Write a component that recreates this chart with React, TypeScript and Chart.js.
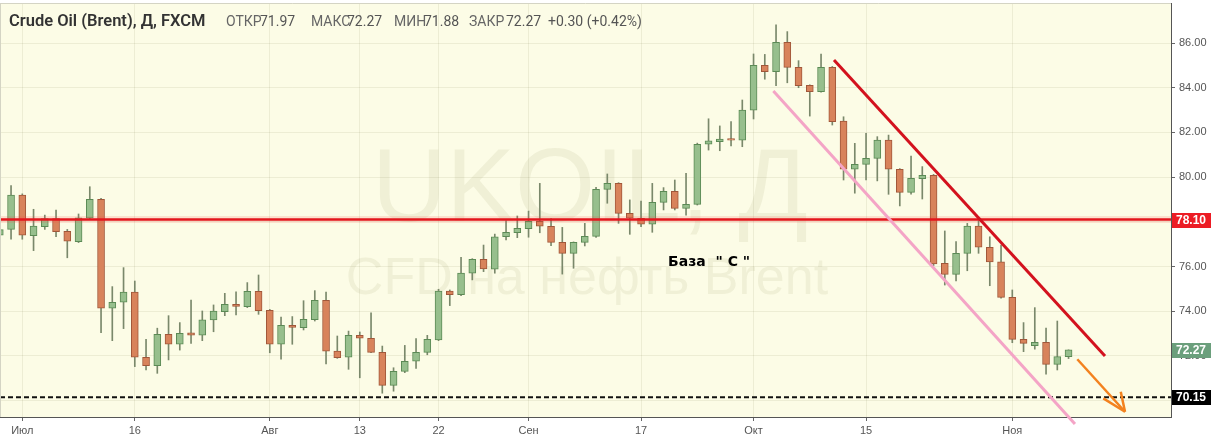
import React, { useEffect, useRef } from 'react';
import { Chart, registerables } from 'chart.js';

Chart.register(...registerables);

// ---- data (trading days, 2018) ----
const dates = [
  '06-28', '06-29',
  '07-02', '07-03', '07-04', '07-05', '07-06', '07-09', '07-10', '07-11', '07-12', '07-13', '07-16', '07-17', '07-18', '07-19', '07-20', '07-23', '07-24', '07-25', '07-26', '07-27', '07-30', '07-31',
  '08-01', '08-02', '08-03', '08-06', '08-07', '08-08', '08-09', '08-10', '08-13', '08-14', '08-15', '08-16', '08-17', '08-20', '08-21', '08-22', '08-23', '08-24', '08-27', '08-28', '08-29', '08-30', '08-31',
  '09-03', '09-04', '09-05', '09-06', '09-07', '09-10', '09-11', '09-12', '09-13', '09-14', '09-17', '09-18', '09-19', '09-20', '09-21', '09-24', '09-25', '09-26', '09-27', '09-28',
  '10-01', '10-02', '10-03', '10-04', '10-05', '10-08', '10-09', '10-10', '10-11', '10-12', '10-15', '10-16', '10-17', '10-18', '10-19', '10-22', '10-23', '10-24', '10-25', '10-26', '10-29', '10-30', '10-31',
  '11-01', '11-02', '11-05', '11-06', '11-07', '11-08',
];

const opens = [
  77.40, 77.66, 79.20, 77.38, 77.78, 78.14, 77.57, 77.11, 78.16, 79.01,
  74.13, 74.40, 74.85, 71.94, 71.56, 72.97, 72.52, 73.03, 72.93, 73.61,
  73.98, 74.31, 74.20, 74.89, 74.04, 72.52, 73.37, 73.26, 73.62, 74.49,
  72.21, 71.94, 72.92, 72.79, 72.16, 70.68, 71.31, 71.76, 72.16, 72.71,
  74.90, 74.74, 75.70, 76.32, 75.88, 77.33, 77.51, 77.69, 78.02, 77.80,
  77.08, 76.59, 77.08, 77.35, 79.45, 79.72, 78.38, 78.16, 77.89, 78.87,
  79.36, 78.60, 78.78, 81.47, 81.58, 81.72, 81.65, 83.00, 85.00, 84.72,
  86.03, 84.91, 84.11, 83.82, 84.91, 82.51, 80.35, 80.57, 80.84, 81.66,
  80.35, 79.32, 79.93, 80.08, 76.14, 75.65, 76.59, 77.81, 76.86, 76.21,
  74.62, 72.74, 72.46, 72.61, 71.62, 71.97,
];

const highs = [
  77.72, 79.62, 79.25, 78.56, 78.30, 78.53, 77.66, 78.35, 79.57, 79.05,
  75.10, 75.95, 75.35, 72.74, 73.24, 73.80, 73.49, 74.50, 74.01, 74.28,
  74.80, 74.87, 75.28, 75.62, 74.08, 73.74, 73.76, 74.47, 74.92, 74.86,
  72.89, 73.11, 73.07, 73.93, 72.44, 71.47, 72.47, 72.77, 72.92, 74.98,
  74.95, 76.41, 76.35, 76.96, 77.45, 78.05, 78.26, 78.48, 79.72, 78.14,
  77.75, 77.10, 77.93, 79.54, 80.14, 79.75, 78.98, 78.93, 79.72, 79.53,
  79.87, 80.17, 81.52, 82.61, 82.29, 82.48, 83.45, 85.51, 85.49, 86.81,
  86.51, 85.21, 84.13, 85.51, 84.95, 82.70, 81.51, 81.96, 81.81, 81.88,
  80.38, 80.94, 80.47, 80.12, 77.59, 77.11, 77.93, 78.05, 77.33, 76.96,
  74.95, 73.49, 74.16, 73.24, 73.56, 72.27,
];

const lows = [
  77.30, 77.22, 77.22, 76.71, 77.66, 77.33, 76.39, 77.07, 78.12, 73.04,
  72.68, 73.22, 71.52, 71.37, 71.22, 71.82, 72.26, 72.56, 72.68, 73.08,
  73.80, 73.83, 74.16, 73.86, 72.14, 71.85, 72.52, 73.16, 73.56, 71.64,
  71.89, 71.40, 71.02, 72.14, 70.33, 70.42, 71.25, 71.44, 72.05, 72.68,
  74.25, 74.69, 75.40, 75.77, 75.70, 77.19, 77.29, 77.31, 77.51, 76.93,
  75.66, 75.92, 76.92, 77.30, 78.83, 77.93, 77.44, 77.78, 77.53, 78.53,
  78.53, 78.30, 78.75, 81.21, 81.18, 81.39, 81.36, 82.60, 84.38, 84.09,
  84.22, 84.00, 82.73, 83.80, 82.33, 79.87, 79.28, 79.87, 79.83, 79.23,
  78.71, 79.24, 79.02, 76.04, 75.17, 75.35, 75.81, 76.59, 75.14, 74.58,
  72.59, 72.19, 72.30, 71.18, 71.37, 71.88,
];

const closes = [
  77.65, 79.20, 77.40, 77.81, 78.14, 77.56, 77.13, 78.18, 79.01, 74.13,
  74.40, 74.85, 71.94, 71.56, 72.97, 72.52, 73.01, 72.93, 73.61, 74.01,
  74.31, 74.21, 74.89, 74.02, 72.52, 73.37, 73.27, 73.64, 74.49, 72.21,
  71.92, 72.92, 72.79, 72.16, 70.68, 71.31, 71.76, 72.16, 72.74, 74.90,
  74.74, 75.70, 76.32, 75.89, 77.33, 77.53, 77.71, 78.02, 77.80, 77.08,
  76.59, 77.08, 77.35, 79.45, 79.72, 78.38, 78.16, 77.89, 78.87, 79.36,
  78.60, 78.78, 81.47, 81.62, 81.70, 81.65, 83.00, 85.00, 84.72, 86.03,
  84.91, 84.09, 83.82, 84.91, 82.48, 80.36, 80.57, 80.84, 81.66, 80.35,
  79.32, 79.95, 80.08, 76.11, 75.65, 76.59, 77.81, 76.86, 76.21, 74.62,
  72.74, 72.56, 72.61, 71.62, 71.97, 72.27,
];

// x-axis ticks (dates) and labels
const tickDates = ['07-02', '07-16', '08-01', '08-13', '08-22', '09-03', '09-17', '10-01', '10-15', '11-01'];
const tickLabels = ['Июл', '16', 'Авг', '13', '22', 'Сен', '17', 'Окт', '15', 'Ноя'];
const yTicks = [70, 72, 74, 76, 78, 80, 82, 84, 86];

// levels and drawn annotations (data coordinates: x = trading-day index, y = price)
const resistanceLevel = 78.10;
const baseLevel = 70.15;
const redTrend = [{ x: 74.15, y: 85.24 }, { x: 98.24, y: 72.0 }];
const pinkTrend = [{ x: 68.76, y: 83.85 }, { x: 95.57, y: 68.95 }];
const arrowShaft = [{ x: 95.78, y: 71.85 }, { x: 100.02, y: 69.50 }];
const arrowArmA = [{ x: 98.09, y: 70.10 }, { x: 100.02, y: 69.50 }];
const arrowArmB = [{ x: 99.64, y: 70.40 }, { x: 100.02, y: 69.50 }];
const baseText = 'База  " С "';
const baseTextPos = { x: 59.4, y: 76.18 };

const X_MIN = 0.018;
const X_MAX = 104.107;
const Y_MIN = 69.266;
const Y_MAX = 87.79;

const BG = '#fcfce6';
const GRID = 'rgba(60,60,0,0.075)';
const GREEN_FILL = '#97bf8d';
const GREEN_EDGE = '#5b8a55';
const RED_FILL = '#d8835b';
const RED_EDGE = '#a0573a';
const WICK = '#7a886b';

export default function App() {
  const canvasRef = useRef<HTMLCanvasElement | null>(null);

  useEffect(() => {
    const canvas = canvasRef.current;
    if (!canvas) return;
    const xs = dates.map((_, i) => i);
    const rising = closes.map((c, i) => c >= opens[i]);
    const tickPositions = tickDates.map((d) => dates.indexOf(d));
    const hLine = (y: number) => [{ x: X_MIN, y }, { x: X_MAX, y }];
    const last = closes.length - 1;

    const decorPlugin = {
      id: 'decor',
      beforeDraw(chart: any) {
        const { ctx, chartArea: a, width, height } = chart;
        ctx.save();
        ctx.fillStyle = '#ffffff';
        ctx.fillRect(0, 0, width, height);
        ctx.fillStyle = BG;
        ctx.fillRect(a.left, a.top, a.right - a.left, a.bottom - a.top);
        ctx.fillStyle = 'rgba(90,90,30,0.075)';
        ctx.textAlign = 'center';
        ctx.textBaseline = 'alphabetic';
        ctx.font = '103px "Liberation Sans"';
        ctx.fillText('UKOIL, Д', 590, 221);
        ctx.font = '52px "Liberation Sans"';
        ctx.fillText('CFD на нефть Brent', 587, 294);
        ctx.restore();
      },
      afterDatasetsDraw(chart: any) {
        const { ctx } = chart;
        const xS = chart.scales.x;
        const yS = chart.scales.y;
        ctx.save();
        ctx.fillStyle = '#000';
        ctx.font = 'bold 14px "DejaVu Sans"';
        ctx.textAlign = 'left';
        ctx.textBaseline = 'middle';
        ctx.fillText(baseText, xS.getPixelForValue(baseTextPos.x), yS.getPixelForValue(baseTextPos.y));
        ctx.restore();
      },
      afterDraw(chart: any) {
        const { ctx, chartArea: a } = chart;
        const yS = chart.scales.y;
        ctx.save();
        // light frame on top/left
        ctx.strokeStyle = '#d4d4c4';
        ctx.lineWidth = 1;
        ctx.beginPath();
        ctx.moveTo(0, a.top + 0.5);
        ctx.lineTo(a.right, a.top + 0.5);
        ctx.moveTo(0.5, a.top);
        ctx.lineTo(0.5, a.bottom);
        ctx.stroke();

        // price boxes on the axis
        const box = (value: number, bg: string) => {
          const y = Math.round(yS.getPixelForValue(value));
          ctx.fillStyle = bg;
          ctx.fillRect(a.right + 1, y - 7, 39, 15);
          ctx.fillStyle = '#ffffff';
          ctx.font = 'bold 12px "Liberation Sans"';
          ctx.textAlign = 'left';
          ctx.textBaseline = 'middle';
          ctx.fillText(value.toFixed(2), a.right + 5, y + 1);
        };
        box(resistanceLevel, '#ec1c24');
        box(closes[last], '#6b9f7c');
        box(baseLevel, '#000000');

        // header
        ctx.textAlign = 'left';
        ctx.textBaseline = 'alphabetic';
        ctx.fillStyle = '#333333';
        ctx.font = '600 16.5px Roboto';
        ctx.fillText('Crude Oil (Brent), Д, FXCM', 9, 26);
        const chg = closes[last] - closes[last - 1];
        const pct = (chg / closes[last - 1]) * 100;
        const sign = chg >= 0 ? '+' : '';
        const parts: [string, number, string][] = [
          ['ОТКР', 226, '#666'],
          [opens[last].toFixed(2), 260, '#555'],
          ['МАКС', 311, '#666'],
          [highs[last].toFixed(2), 347, '#555'],
          ['МИН', 394, '#666'],
          [lows[last].toFixed(2), 424, '#555'],
          ['ЗАКР', 469, '#666'],
          [closes[last].toFixed(2), 506, '#555'],
          [`${sign}${chg.toFixed(2)} (${sign}${pct.toFixed(2)}%)`, 548, '#555'],
        ];
        ctx.font = '14px Roboto';
        for (const [t, x, c] of parts) {
          ctx.fillStyle = c;
          ctx.fillText(t, x, 26);
        }
        ctx.restore();
      },
    };

    const lineDs = (data: any[], color: string, width: number, order: number, extra: any = {}) => ({
      type: 'line' as const,
      data,
      borderColor: color,
      borderWidth: width,
      pointRadius: 0,
      fill: false,
      tension: 0,
      order,
      ...extra,
    });

    const chart = new Chart(canvas, {
      type: 'bar',
      data: {
        datasets: [
          {
            type: 'bar',
            label: 'wicks',
            data: xs.map((x, i) => ({ x, y: [lows[i], highs[i]] })) as any,
            backgroundColor: WICK,
            borderWidth: 0,
            barThickness: 1,
            grouped: false,
            order: 10,
          } as any,
          {
            type: 'bar',
            label: 'bodies',
            data: xs.map((x, i) => ({ x, y: [opens[i], closes[i]] })) as any,
            backgroundColor: rising.map((r) => (r ? GREEN_FILL : RED_FILL)),
            borderColor: rising.map((r) => (r ? GREEN_EDGE : RED_EDGE)),
            borderWidth: 1,
            borderSkipped: false,
            barThickness: 7,
            grouped: false,
            order: 9,
          } as any,
          lineDs(hLine(resistanceLevel), 'rgba(255,70,70,0.15)', 7, 5),
          lineDs(hLine(resistanceLevel), '#e3161c', 2.5, 4),
          lineDs(hLine(baseLevel), '#111111', 2, 4, { borderDash: [5, 3] }),
          lineDs(pinkTrend, '#f4a4c6', 3, 3, { clip: false }),
          lineDs(redTrend, '#d3121e', 3, 2),
          lineDs(arrowShaft, '#f3821f', 2.5, 1),
          lineDs(arrowArmA, '#f3821f', 2.5, 1),
          lineDs(arrowArmB, '#f3821f', 2.5, 1),
        ] as any,
      },
      options: {
        animation: false,
        responsive: false,
        devicePixelRatio: 1,
        layout: { padding: { top: 3, left: 0, right: 0, bottom: 0 } },
        plugins: {
          legend: { display: false },
          tooltip: { enabled: false },
          title: { display: false },
        },
        scales: {
          x: {
            type: 'linear',
            min: X_MIN,
            max: X_MAX,
            offset: false,
            afterBuildTicks: (s: any) => {
              s.ticks = tickPositions.map((v) => ({ value: v }));
            },
            afterFit: (s: any) => {
              s.height = 22;
              s.paddingLeft = 0;
              s.paddingRight = 0;
              s.paddingTop = 0;
              s.paddingBottom = 0;
            },
            ticks: {
              autoSkip: false,
              maxRotation: 0,
              color: '#555',
              padding: 3,
              font: { family: '"Liberation Sans", Arial', size: 11 },
              callback: (_v: any, i: number) => tickLabels[i],
            },
            grid: { color: GRID, offset: false, drawTicks: true, tickLength: 4, tickColor: '#666' },
            border: { display: true, color: '#555', width: 1 },
          },
          y: {
            type: 'linear',
            position: 'right',
            min: Y_MIN,
            max: Y_MAX,
            afterBuildTicks: (s: any) => {
              s.ticks = yTicks.map((v) => ({ value: v }));
            },
            afterFit: (s: any) => {
              s.width = 41;
              s.paddingTop = 0;
              s.paddingBottom = 0;
              s.paddingLeft = 0;
              s.paddingRight = 0;
            },
            ticks: {
              color: '#555',
              padding: 4,
              font: { family: '"Liberation Sans", Arial', size: 11 },
              callback: (v: any) => Number(v).toFixed(2),
            },
            grid: { color: GRID, drawTicks: true, tickLength: 4, tickColor: '#666' },
            border: { display: true, color: '#555', width: 1 },
          },
        },
      } as any,
      plugins: [decorPlugin],
    });

    return () => {
      chart.destroy();
    };
  }, []);

  return (
    <div style={{ position: 'fixed', left: 0, top: 0, width: 1212, height: 439, background: '#fff' }}>
      <canvas ref={canvasRef} width={1212} height={439} style={{ display: 'block', width: 1212, height: 439 }} />
    </div>
  );
}
